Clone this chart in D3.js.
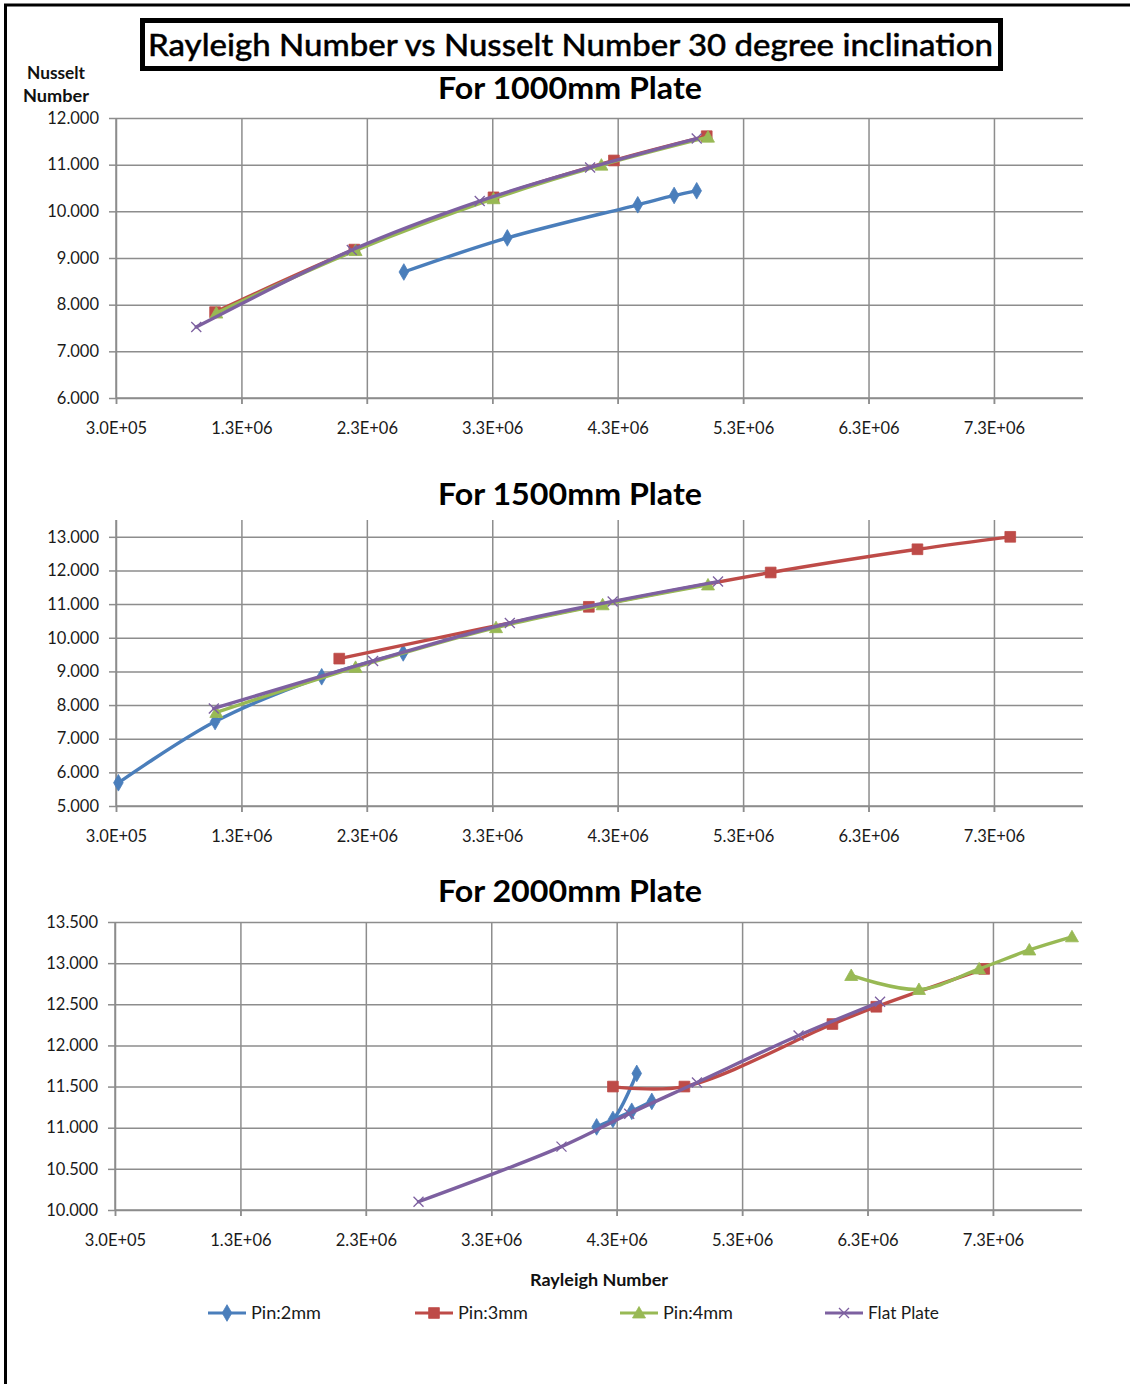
<!DOCTYPE html>
<html><head><meta charset="utf-8">
<script src="https://cdn.jsdelivr.net/npm/d3@7"></script>
<style>body{margin:0;background:#fff}svg{display:block}</style>
</head><body><div id="chart"></div>
<script>
// ---------------- DATA ----------------
const seriesNames = ["Pin:2mm", "Pin:3mm", "Pin:4mm", "Flat Plate"];
const seriesColors = ["#4A7EBB", "#BE4B48", "#98B954", "#7D60A0"];
const seriesMarkers = ["diamond", "square", "triangle", "x"];

const xTickValues = [3e5, 1.3e6, 2.3e6, 3.3e6, 4.3e6, 5.3e6, 6.3e6, 7.3e6];
const xTickLabels = ["3.0E+05", "1.3E+06", "2.3E+06", "3.3E+06", "4.3E+06", "5.3E+06", "6.3E+06", "7.3E+06"];

const mainTitle = "Rayleigh Number vs Nusselt Number 30 degree inclination";
const panelTitles = ["For 1000mm Plate", "For 1500mm Plate", "For 2000mm Plate"];
const yAxisTitle = ["Nusselt", "Number"];
const xAxisTitle = "Rayleigh Number";

const yTicks1000 = [6, 7, 8, 9, 10, 11, 12];
const yTicks1500 = [5, 6, 7, 8, 9, 10, 11, 12, 13];
const yTicks2000 = [10, 10.5, 11, 11.5, 12, 12.5, 13, 13.5];

// [Rayleigh, Nusselt]
const plate1000_pin2 = [[2.595e6, 8.70], [3.42e6, 9.43], [4.46e6, 10.14], [4.75e6, 10.34], [4.93e6, 10.44]];
const plate1000_pin3 = [[1.09e6, 7.84], [2.20e6, 9.18], [3.31e6, 10.30], [4.27e6, 11.09], [5.01e6, 11.61]];
const plate1000_pin4 = [[1.10e6, 7.82], [2.21e6, 9.16], [3.31e6, 10.27], [4.17e6, 10.99], [5.02e6, 11.59]];
const plate1000_flat = [[0.94e6, 7.52], [2.18e6, 9.17], [3.20e6, 10.22], [4.08e6, 10.94], [4.93e6, 11.56]];

const plate1500_pin2 = [[3.19e5, 5.69], [1.09e6, 7.51], [1.94e6, 8.84], [2.59e6, 9.55]];
const plate1500_pin3 = [[2.08e6, 9.38], [4.07e6, 10.92], [5.52e6, 11.94], [6.69e6, 12.63], [7.43e6, 13.00]];
const plate1500_pin4 = [[1.10e6, 7.78], [2.21e6, 9.12], [3.33e6, 10.30], [4.18e6, 10.98], [5.02e6, 11.57]];
const plate1500_flat = [[1.08e6, 7.90], [2.35e6, 9.31], [3.44e6, 10.44], [4.26e6, 11.08], [5.10e6, 11.67]];

const plate2000_pin2 = [[4.58e6, 11.32], [4.42e6, 11.20], [4.14e6, 11.01], [4.27e6, 11.10], [4.46e6, 11.66]];
const plate2000_pin3 = [[4.27e6, 11.50], [4.84e6, 11.50], [6.02e6, 12.26], [6.37e6, 12.47], [7.23e6, 12.93]];
const plate2000_pin4 = [[6.17e6, 12.85], [6.71e6, 12.68], [7.19e6, 12.93], [7.59e6, 13.16], [7.93e6, 13.32]];
const plate2000_flat = [[2.72e6, 10.10], [3.86e6, 10.77], [4.40e6, 11.17], [4.94e6, 11.55], [5.75e6, 12.12], [6.40e6, 12.53]];

// ---------------- LAYOUT ----------------
const W = 1130, H = 1384;
const xMin = 3e5, xMax = 8.01e6;
const panels = [
  { title: panelTitles[0], titleY: 99, L: 116, R: 1083, T: 118, B: 398, yDom: [6, 12], yTicks: yTicks1000,
    data: [plate1000_pin2, plate1000_pin3, plate1000_pin4, plate1000_flat] },
  { title: panelTitles[1], titleY: 505, L: 116, R: 1083, T: 520, B: 806, yDom: [5, 13.5], yTicks: yTicks1500,
    data: [plate1500_pin2, plate1500_pin3, plate1500_pin4, plate1500_flat] },
  { title: panelTitles[2], titleY: 902, L: 115, R: 1082, T: 922, B: 1210, yDom: [10, 13.5], yTicks: yTicks2000,
    data: [plate2000_pin2, plate2000_pin3, plate2000_pin4, plate2000_flat] }
];

const FONT = "Lato, 'Open Sans', sans-serif";
const GRID = "#8d8d8d";
const TICKFS = 16.5;

const svg = d3.select("#chart").append("svg").attr("width", W).attr("height", H)
  .style("font-family", FONT);
svg.append("rect").attr("width", W).attr("height", H).attr("fill", "#fff");

// frame
svg.append("path").attr("d", `M5.5,${H} V5 H${W}`).attr("fill", "none")
  .attr("stroke", "#000").attr("stroke-width", 3);

// main title box
svg.append("rect").attr("x", 142.5).attr("y", 20.5).attr("width", 858).attr("height", 48)
  .attr("fill", "#fff").attr("stroke", "#000").attr("stroke-width", 5);
svg.append("text").attr("x", 570.5).attr("y", 56).attr("text-anchor", "middle")
  .attr("font-size", 31).attr("font-weight", 500).attr("fill", "#000")
  .style("stroke", "#000").style("stroke-width", 0.4)
  .attr("textLength", 845).attr("lengthAdjust", "spacingAndGlyphs").text(mainTitle);

// y-axis title
svg.append("text").attr("x", 56).attr("y", 79).attr("text-anchor", "middle")
  .attr("font-size", 16.5).attr("font-weight", 700).attr("fill", "#111")
  .attr("textLength", 58).attr("lengthAdjust", "spacingAndGlyphs").text(yAxisTitle[0]);
svg.append("text").attr("x", 56).attr("y", 102).attr("text-anchor", "middle")
  .attr("font-size", 16.5).attr("font-weight", 700).attr("fill", "#111")
  .attr("textLength", 66).attr("lengthAdjust", "spacingAndGlyphs").text(yAxisTitle[1]);

function markerPath(type) {
  if (type === "diamond") return d3.symbol().type(d3.symbolDiamond).size(80)();
  if (type === "square") return d3.symbol().type(d3.symbolSquare).size(115)();
  if (type === "triangle") return "M0,-6.5 L6.5,5 L-6.5,5 Z";
  return "M-5,-5 L5,5 M-5,5 L5,-5";
}
function drawMarker(g, type, color, cx, cy) {
  const p = g.append("path").attr("d", markerPath(type)).attr("transform", `translate(${cx},${cy})`);
  if (type === "x") p.attr("fill", "none").attr("stroke", color).attr("stroke-width", 1.3);
  else p.attr("fill", color).attr("stroke", color).attr("stroke-width", 0.8);
}

panels.forEach(p => {
  const x = d3.scaleLinear().domain([xMin, xMax]).range([p.L, p.R]);
  const y = d3.scaleLinear().domain(p.yDom).range([p.B, p.T]);
  const g = svg.append("g");

  // title
  g.append("text").attr("x", 570).attr("y", p.titleY).attr("text-anchor", "middle")
    .attr("font-size", 30).attr("font-weight", 700).attr("fill", "#000")
    .attr("textLength", 264).attr("lengthAdjust", "spacingAndGlyphs").text(p.title);

  // horizontal grid
  const hg = g.append("g").attr("transform", `translate(${p.L},0)`)
    .call(d3.axisLeft(y).tickValues(p.yTicks).tickSize(-(p.R - p.L)).tickFormat(""));
  hg.select(".domain").remove();
  hg.selectAll("line").attr("stroke", GRID).attr("stroke-width", 1.5);

  // vertical grid (extends 6px below axis as tick marks)
  const vg = g.append("g").attr("transform", `translate(0,${p.B + 6})`)
    .call(d3.axisBottom(x).tickValues(xTickValues).tickSize(-(p.B + 6 - p.T)).tickFormat(""));
  vg.select(".domain").remove();
  vg.selectAll("line").attr("stroke", GRID).attr("stroke-width", 1.5);

  // y axis with labels
  const ya = g.append("g").attr("transform", `translate(${p.L},0)`)
    .call(d3.axisLeft(y).tickValues(p.yTicks).tickSize(7).tickPadding(10).tickFormat(d3.format(".3f")));
  ya.select(".domain").attr("stroke", GRID).attr("stroke-width", 1.5).attr("d", `M0,${p.T}V${p.B}`);
  ya.selectAll("line").attr("stroke", GRID).attr("stroke-width", 1.5);
  ya.selectAll("text").attr("font-size", TICKFS).attr("fill", "#1a1a1a").attr("font-family", FONT);

  // x axis with labels
  const xa = g.append("g").attr("transform", `translate(0,${p.B})`)
    .call(d3.axisBottom(x).tickValues(xTickValues).tickSize(6).tickPadding(18)
      .tickFormat((d, i) => xTickLabels[i]));
  xa.select(".domain").attr("stroke", GRID).attr("stroke-width", 1.5).attr("d", `M${p.L},0H${p.R}`);
  xa.selectAll("line").attr("stroke", GRID).attr("stroke-width", 1.5);
  xa.selectAll("text").attr("font-size", TICKFS).attr("fill", "#1a1a1a").attr("font-family", FONT);

  // series
  const line = d3.line().x(d => x(d[0])).y(d => y(d[1])).curve(d3.curveCatmullRom.alpha(0.5));
  p.data.forEach((s, i) => {
    const sg = g.append("g");
    sg.append("path").attr("d", line(s)).attr("fill", "none").attr("stroke", seriesColors[i])
      .attr("stroke-width", 3.4).attr("stroke-linejoin", "round").attr("stroke-linecap", "round");
    s.forEach(d => drawMarker(sg, seriesMarkers[i], seriesColors[i], x(d[0]), y(d[1])));
  });
});

// x-axis title
svg.append("text").attr("x", 599).attr("y", 1286).attr("text-anchor", "middle")
  .attr("font-size", 17).attr("font-weight", 700).attr("fill", "#111")
  .attr("textLength", 138).attr("lengthAdjust", "spacingAndGlyphs").text(xAxisTitle);

// legend
const legendX = [208, 415, 620, 825];
const legendW = [70, 70, 70, 71];
const lg = svg.append("g");
seriesNames.forEach((name, i) => {
  const lx = legendX[i], ly = 1313;
  lg.append("line").attr("x1", lx).attr("x2", lx + 38).attr("y1", ly).attr("y2", ly)
    .attr("stroke", seriesColors[i]).attr("stroke-width", 3);
  drawMarker(lg, seriesMarkers[i], seriesColors[i], lx + 19, ly);
  lg.append("text").attr("x", lx + 43).attr("y", ly + 6).attr("font-size", 16.5)
    .attr("fill", "#1a1a1a").attr("textLength", legendW[i]).attr("lengthAdjust", "spacingAndGlyphs").text(name);
});
</script>
</body></html>
